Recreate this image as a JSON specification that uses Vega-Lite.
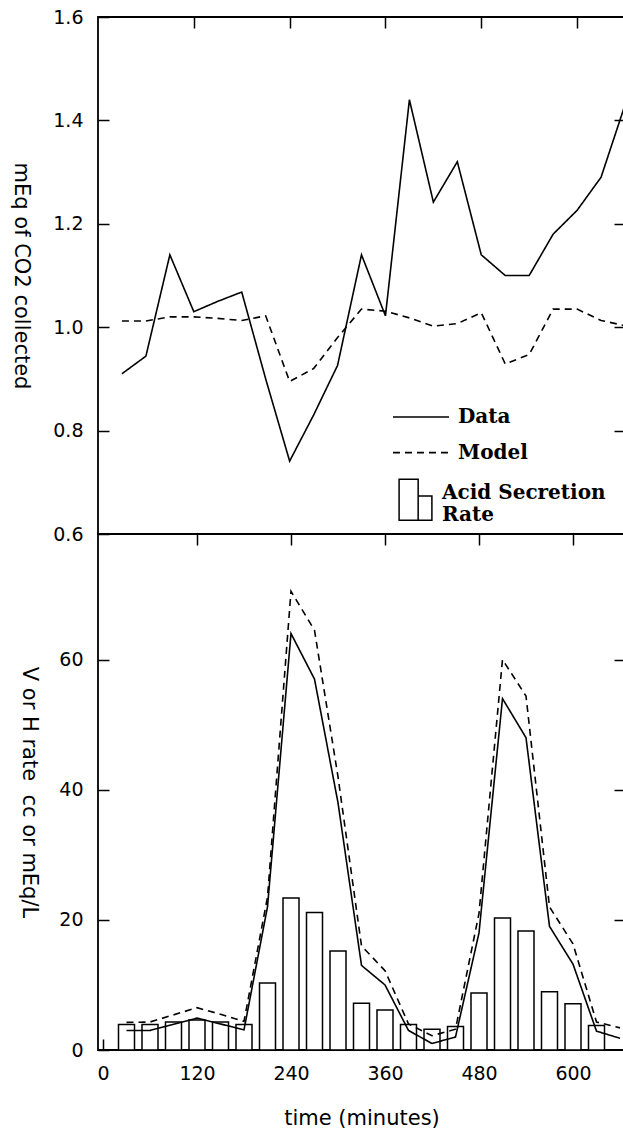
{
  "$schema": "https://vega.github.io/schema/vega-lite/v6.json",
  "background": "white",
  "autosize": {"type": "none"},
  "padding": {"left": 98, "top": 17, "right": 525, "bottom": 1111},
  "bounds": "flush",
  "spacing": 0,
  "datasets": {
    "top": [
      {"t": 30, "v": 0.91, "series": "Data"}, {"t": 60, "v": 0.944, "series": "Data"}, {"t": 90, "v": 1.14, "series": "Data"},
      {"t": 120, "v": 1.03, "series": "Data"}, {"t": 150, "v": 1.05, "series": "Data"}, {"t": 180, "v": 1.068, "series": "Data"},
      {"t": 210, "v": 0.9, "series": "Data"}, {"t": 240, "v": 0.741, "series": "Data"}, {"t": 270, "v": 0.83, "series": "Data"},
      {"t": 300, "v": 0.926, "series": "Data"}, {"t": 330, "v": 1.14, "series": "Data"}, {"t": 360, "v": 1.022, "series": "Data"},
      {"t": 390, "v": 1.44, "series": "Data"}, {"t": 420, "v": 1.242, "series": "Data"}, {"t": 450, "v": 1.32, "series": "Data"},
      {"t": 480, "v": 1.14, "series": "Data"}, {"t": 510, "v": 1.1, "series": "Data"}, {"t": 540, "v": 1.1, "series": "Data"},
      {"t": 570, "v": 1.18, "series": "Data"}, {"t": 600, "v": 1.226, "series": "Data"}, {"t": 630, "v": 1.29, "series": "Data"},
      {"t": 660, "v": 1.43, "series": "Data"},
      {"t": 30, "v": 1.012, "series": "Model"}, {"t": 60, "v": 1.012, "series": "Model"}, {"t": 90, "v": 1.02, "series": "Model"},
      {"t": 120, "v": 1.02, "series": "Model"}, {"t": 150, "v": 1.017, "series": "Model"}, {"t": 180, "v": 1.013, "series": "Model"},
      {"t": 210, "v": 1.022, "series": "Model"}, {"t": 240, "v": 0.895, "series": "Model"}, {"t": 270, "v": 0.92, "series": "Model"},
      {"t": 300, "v": 0.98, "series": "Model"}, {"t": 330, "v": 1.035, "series": "Model"}, {"t": 360, "v": 1.031, "series": "Model"},
      {"t": 390, "v": 1.018, "series": "Model"}, {"t": 420, "v": 1.002, "series": "Model"}, {"t": 450, "v": 1.007, "series": "Model"},
      {"t": 480, "v": 1.028, "series": "Model"}, {"t": 510, "v": 0.929, "series": "Model"}, {"t": 540, "v": 0.947, "series": "Model"},
      {"t": 570, "v": 1.035, "series": "Model"}, {"t": 600, "v": 1.035, "series": "Model"}, {"t": 630, "v": 1.013, "series": "Model"},
      {"t": 660, "v": 1.003, "series": "Model"}
    ],
    "bottom": [
      {"t": 30, "v": 3.0, "series": "Data"}, {"t": 60, "v": 3.0, "series": "Data"}, {"t": 90, "v": 3.95, "series": "Data"},
      {"t": 120, "v": 4.9, "series": "Data"}, {"t": 150, "v": 4.0, "series": "Data"}, {"t": 180, "v": 3.1, "series": "Data"},
      {"t": 210, "v": 22, "series": "Data"}, {"t": 240, "v": 64, "series": "Data"}, {"t": 270, "v": 57, "series": "Data"},
      {"t": 300, "v": 38, "series": "Data"}, {"t": 330, "v": 13, "series": "Data"}, {"t": 360, "v": 10, "series": "Data"},
      {"t": 390, "v": 3.0, "series": "Data"}, {"t": 420, "v": 1.0, "series": "Data"}, {"t": 450, "v": 2.0, "series": "Data"},
      {"t": 480, "v": 18, "series": "Data"}, {"t": 510, "v": 54, "series": "Data"}, {"t": 540, "v": 48, "series": "Data"},
      {"t": 570, "v": 19, "series": "Data"}, {"t": 600, "v": 13.2, "series": "Data"}, {"t": 630, "v": 2.9, "series": "Data"},
      {"t": 660, "v": 1.8, "series": "Data"},
      {"t": 30, "v": 4.25, "series": "Model"}, {"t": 60, "v": 4.3, "series": "Model"}, {"t": 90, "v": 5.4, "series": "Model"},
      {"t": 120, "v": 6.5, "series": "Model"}, {"t": 150, "v": 5.5, "series": "Model"}, {"t": 180, "v": 4.4, "series": "Model"},
      {"t": 210, "v": 23.5, "series": "Model"}, {"t": 240, "v": 70.5, "series": "Model"}, {"t": 270, "v": 64.5, "series": "Model"},
      {"t": 300, "v": 42, "series": "Model"}, {"t": 330, "v": 16, "series": "Model"}, {"t": 360, "v": 12.2, "series": "Model"},
      {"t": 390, "v": 4.0, "series": "Model"}, {"t": 420, "v": 2.2, "series": "Model"}, {"t": 450, "v": 3.2, "series": "Model"},
      {"t": 480, "v": 21, "series": "Model"}, {"t": 510, "v": 60, "series": "Model"}, {"t": 540, "v": 54.4, "series": "Model"},
      {"t": 570, "v": 22, "series": "Model"}, {"t": 600, "v": 16.3, "series": "Model"}, {"t": 630, "v": 4.3, "series": "Model"},
      {"t": 660, "v": 3.4, "series": "Model"}
    ],
    "bars": [
      {"t": 30, "rate": 3.9, "kind": "Acid Secretion Rate"}, {"t": 60, "rate": 3.9, "kind": "Acid Secretion Rate"},
      {"t": 90, "rate": 4.3, "kind": "Acid Secretion Rate"}, {"t": 120, "rate": 4.6, "kind": "Acid Secretion Rate"},
      {"t": 150, "rate": 4.3, "kind": "Acid Secretion Rate"}, {"t": 180, "rate": 3.9, "kind": "Acid Secretion Rate"},
      {"t": 210, "rate": 10.3, "kind": "Acid Secretion Rate"}, {"t": 240, "rate": 23.35, "kind": "Acid Secretion Rate"},
      {"t": 270, "rate": 21.15, "kind": "Acid Secretion Rate"}, {"t": 300, "rate": 15.2, "kind": "Acid Secretion Rate"},
      {"t": 330, "rate": 7.2, "kind": "Acid Secretion Rate"}, {"t": 360, "rate": 6.15, "kind": "Acid Secretion Rate"},
      {"t": 390, "rate": 3.9, "kind": "Acid Secretion Rate"}, {"t": 420, "rate": 3.2, "kind": "Acid Secretion Rate"},
      {"t": 450, "rate": 3.6, "kind": "Acid Secretion Rate"}, {"t": 480, "rate": 8.75, "kind": "Acid Secretion Rate"},
      {"t": 510, "rate": 20.3, "kind": "Acid Secretion Rate"}, {"t": 540, "rate": 18.3, "kind": "Acid Secretion Rate"},
      {"t": 570, "rate": 8.95, "kind": "Acid Secretion Rate"}, {"t": 600, "rate": 7.1, "kind": "Acid Secretion Rate"},
      {"t": 630, "rate": 3.75, "kind": "Acid Secretion Rate"}
    ]
  },
  "resolve": {
    "scale": {"strokeDash": "shared", "fill": "shared"},
    "legend": {"strokeDash": "shared", "fill": "shared"}
  },
  "vconcat": [
    {
      "width": 527,
      "height": 517,
      "data": {"name": "top"},
      "layer": [
        {
          "transform": [{"filter": "datum.series === 'Data'"}],
          "mark": {"type": "line", "stroke": "black", "strokeWidth": 1.6},
          "encoding": {
            "x": {"field": "t", "type": "quantitative", "scale": {"domain": [0, 660], "nice": false, "zero": false},
                  "axis": {"orient": "top", "values": [120, 240, 360, 480, 600], "labels": false, "title": null}},
            "y": {"field": "v", "type": "quantitative", "scale": {"domain": [0.6, 1.6], "nice": false, "zero": false},
                  "axis": {"orient": "left", "values": [0.6, 0.8, 1.0, 1.2, 1.4, 1.6], "format": ".1f", "labelPadding": 26,
                           "title": "mEq of CO2 collected", "titleAngle": 90, "titleX": -78, "titleY": 258.5,
                           "titleAlign": "center", "titleBaseline": "middle"}},
            "strokeDash": {"field": "series", "type": "nominal",
                           "scale": {"domain": ["Data", "Model"], "range": [[1, 0], [7, 5]]},
                           "legend": {"orient": "none", "legendX": 294, "legendY": 388, "title": null, "symbolType": "stroke",
                                      "symbolSize": 3136, "symbolStrokeWidth": 1.6, "symbolStrokeColor": "black",
                                      "labelFont": "DejaVu Serif", "labelFontWeight": "bold", "labelFontSize": 20,
                                      "labelColor": "black", "labelOffset": 8, "clipHeight": 24, "rowPadding": 11.6,
                                      "padding": 0, "labelLimit": 400}}
          }
        },
        {
          "transform": [{"filter": "datum.series === 'Model'"}],
          "mark": {"type": "line", "stroke": "black", "strokeWidth": 1.6},
          "encoding": {
            "x": {"field": "t", "type": "quantitative", "axis": null},
            "y": {"field": "v", "type": "quantitative",
                  "axis": {"orient": "right", "values": [0.8, 1.0, 1.2, 1.4], "labels": false, "title": null}},
            "strokeDash": {"field": "series", "type": "nominal"}
          }
        }
      ],
      "resolve": {"axis": {"x": "independent", "y": "independent"}}
    },
    {
      "width": 527,
      "height": 516,
      "layer": [
        {
          "data": {"name": "bars"},
          "mark": {"type": "bar", "width": 16, "stroke": "black", "strokeWidth": 1.5},
          "encoding": {
            "x": {"field": "t", "type": "quantitative", "scale": {"domain": [0, 660], "nice": false, "zero": false},
                  "axis": {"orient": "bottom", "values": [0, 120, 240, 360, 480, 600], "labelPadding": 25,
                           "title": "time (minutes)", "titleX": 263.5, "titleY": 74, "titleAlign": "center",
                           "titleBaseline": "alphabetic"}},
            "y": {"field": "rate", "type": "quantitative", "scale": {"domain": [0, 79.3], "nice": false},
                  "axis": {"orient": "left", "values": [0, 20, 40, 60], "labelPadding": 26,
                           "title": "V or H rate \u00a0cc or mEq/L", "titleAngle": 90, "titleX": -70, "titleY": 258,
                           "titleAlign": "center", "titleBaseline": "middle"}},
            "fill": {"field": "kind", "type": "nominal", "scale": {"range": ["white"]},
                     "legend": {"orient": "none", "legendX": 296, "legendY": 461.2, "title": null,
                                "symbolType": "M-0.8,-1H0.13V1H-0.8Z M0.13,-0.18H0.8V1H0.13Z",
                                "symbolSize": 1681, "symbolStrokeColor": "black", "symbolStrokeWidth": 1.5,
                                "symbolFillColor": "white", "labelExpr": "['Acid Secretion', 'Rate']",
                                "labelFont": "DejaVu Serif", "labelFontWeight": "bold", "labelFontSize": 20,
                                "labelColor": "black", "labelOffset": 5, "padding": 0, "labelLimit": 400,
                                "encode": {"symbols": {"update": {"stroke": {"value": "black"}, "fill": {"value": "white"}, "strokeWidth": {"value": 1.5}}},
                                           "labels": {"update": {"dy": {"value": -7}}}}}}
          }
        },
        {
          "data": {"name": "bottom"},
          "transform": [{"filter": "datum.series === 'Data'"}],
          "mark": {"type": "line", "stroke": "black", "strokeWidth": 1.6},
          "encoding": {
            "x": {"field": "t", "type": "quantitative",
                  "axis": {"orient": "top", "values": [120, 240, 360, 480, 600], "labels": false, "title": null}},
            "y": {"field": "v", "type": "quantitative",
                  "axis": {"orient": "right", "values": [20, 40, 60], "labels": false, "title": null}},
            "strokeDash": {"field": "series", "type": "nominal"}
          }
        },
        {
          "data": {"name": "bottom"},
          "transform": [{"filter": "datum.series === 'Model'"}],
          "mark": {"type": "line", "stroke": "black", "strokeWidth": 1.6},
          "encoding": {
            "x": {"field": "t", "type": "quantitative", "axis": null},
            "y": {"field": "v", "type": "quantitative", "axis": null},
            "strokeDash": {"field": "series", "type": "nominal"}
          }
        }
      ],
      "resolve": {"axis": {"x": "independent", "y": "independent"}}
    }
  ],
  "config": {
    "view": {"stroke": "black", "strokeWidth": 1.8},
    "axis": {
      "domain": false, "grid": false, "ticks": true, "tickColor": "black", "tickWidth": 1.5, "tickSize": -11,
      "labelFont": "DejaVu Sans", "labelFontSize": 19, "labelColor": "black", "labelFlush": false,
      "labelOverlap": false, "labelBound": false,
      "titleFont": "DejaVu Sans", "titleFontSize": 21, "titleFontWeight": "normal", "titleColor": "black",
      "zindex": 1
    }
  }
}
